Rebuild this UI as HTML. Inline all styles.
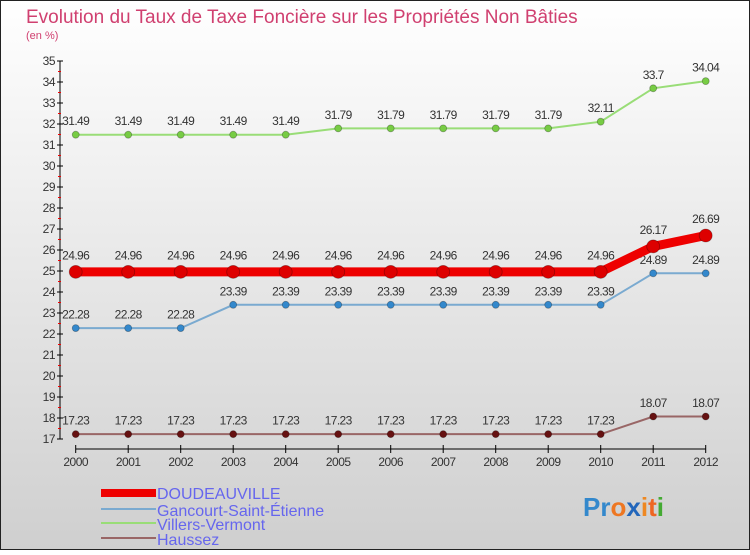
<!DOCTYPE html>
<html><head><meta charset="utf-8"><style>
body{margin:0;width:750px;height:550px;overflow:hidden;font-family:"Liberation Sans",sans-serif}
svg text{font-family:"Liberation Sans",sans-serif}
</style></head><body>
<svg id="c" width="750" height="550" xmlns="http://www.w3.org/2000/svg">
<defs><linearGradient id="bg" x1="0" y1="0" x2="0" y2="1"><stop offset="0" stop-color="#ffffff"/><stop offset="1" stop-color="#cfcfcf"/></linearGradient></defs>
<rect x="0.5" y="0.5" width="749" height="549" fill="url(#bg)" stroke="#222"/>
<text x="26" y="23" font-size="19" fill="#d04070">Evolution du Taux de Taxe Foncière sur les Propriétés Non Bâties</text>
<text x="26" y="39" font-size="11" fill="#d04070">(en %)</text>
<g id="axes"></g><g id="series"></g>
<g>
<rect x="101" y="489" width="55" height="8" fill="#ee0000"/>
<text x="157" y="499" font-size="16" fill="#6666ee">DOUDEAUVILLE</text>
<rect x="101" y="508" width="55" height="2" fill="#7aaad0"/>
<text x="157" y="516" font-size="16" fill="#6666ee">Gancourt-Saint-Étienne</text>
<rect x="101" y="522" width="55" height="2" fill="#99dd77"/>
<text x="157" y="530" font-size="16" fill="#6666ee">Villers-Vermont</text>
<rect x="101" y="537" width="55" height="2" fill="#996666"/>
<text x="157" y="545" font-size="16" fill="#6666ee">Haussez</text>
</g>
<text x="583" y="516" font-size="26" font-weight="bold"><tspan fill="#3388cc">Pr</tspan><tspan fill="#ee7722">o</tspan><tspan fill="#2266bb">x</tspan><tspan fill="#ee8822">i</tspan><tspan fill="#ee6622">t</tspan><tspan fill="#44aa33">i</tspan></text>
</svg>
<script>
const years=[2000,2001,2002,2003,2004,2005,2006,2007,2008,2009,2010,2011,2012];
const doudeauville=[24.96,24.96,24.96,24.96,24.96,24.96,24.96,24.96,24.96,24.96,24.96,26.17,26.69];
const gancourt=[22.28,22.28,22.28,23.39,23.39,23.39,23.39,23.39,23.39,23.39,23.39,24.89,24.89];
const villers=[31.49,31.49,31.49,31.49,31.49,31.79,31.79,31.79,31.79,31.79,32.11,33.7,34.04];
const haussez=[17.23,17.23,17.23,17.23,17.23,17.23,17.23,17.23,17.23,17.23,17.23,18.07,18.07];
const yTicks=[17,18,19,20,21,22,23,24,25,26,27,28,29,30,31,32,33,34,35];
const NS="http://www.w3.org/2000/svg";
const xS=i=>75.7+i*52.5;
const yS=v=>439-(v-17)*21;
function mk(t,a,p){const e=document.createElementNS(NS,t);for(const k in a)e.setAttribute(k,a[k]);p.appendChild(e);return e;}
const ax=document.getElementById('axes');
const yl=mk('line',{x1:60,y1:yS(35),x2:60,y2:yS(17),stroke:'#000'},ax);


yTicks.forEach(v=>{
  mk('line',{x1:57,y1:yS(v),x2:63,y2:yS(v),stroke:'#000'},ax);
  if(v<35) mk('line',{x1:58,y1:yS(v+0.5),x2:61,y2:yS(v+0.5),stroke:'#e00'},ax);
  const t=mk('text',{x:55,y:yS(v)+4,'font-size':12,'text-anchor':'end',fill:'#333','letter-spacing':'-0.5'},ax);
  t.textContent=v;
  
  
});
const xl=mk('line',{x1:xS(0),y1:449,x2:xS(12),y2:449,stroke:'#000'},ax);


years.forEach((y,i)=>{
  mk('line',{x1:xS(i),y1:445,x2:xS(i),y2:453,stroke:'#000'},ax);
  const t=mk('text',{x:xS(i),y:466,'font-size':12,'text-anchor':'middle',fill:'#333','letter-spacing':'-0.5'},ax);
  t.textContent=y;
  
  
});
const sg=document.getElementById('series');
function draw(vals,name,col,dot,w,r){
  const g=mk('g',{},sg);
  
  
  const p=mk('polyline',{points:vals.map((v,i)=>xS(i)+','+yS(v)).join(' '),fill:'none',stroke:col,'stroke-width':w},g);
  
  
  vals.forEach((v,i)=>{
    const c=mk('circle',{cx:xS(i),cy:yS(v),r:r,fill:dot,stroke:'rgba(0,0,0,0.3)','stroke-width':0.8},g);
    
    
    const t=mk('text',{x:xS(i),y:yS(v)-(r+6),'font-size':12,'text-anchor':'middle',fill:'#333','letter-spacing':'-0.6'},g);
    t.textContent=v;
    
    
  });
}
draw(villers,'villers','#99dd77','#77cc44',2,3.5);
draw(gancourt,'gancourt','#7aaad0','#3388cc',2,3.5);
draw(haussez,'haussez','#996666','#661111',2,3.5);
draw(doudeauville,'doudeauville','#ee0000','#dd0000',9,6.5);
</script>
</body></html>
